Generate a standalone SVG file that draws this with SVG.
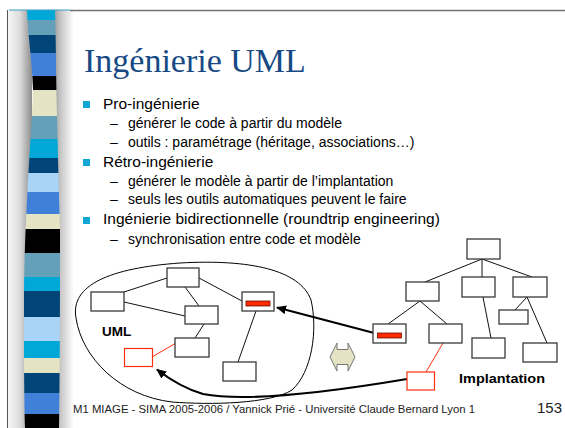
<svg xmlns="http://www.w3.org/2000/svg" width="565" height="428" viewBox="0 0 565 428">
<defs>
<style>
.t{font-family:"Liberation Sans",Arial,sans-serif;fill:#000}
.l1{font-size:15.5px}
.l2{font-size:14px}
.bx{fill:#fff;stroke:#3a3a3a;stroke-width:1.3}
.rbx{fill:#fff;stroke:#ff3010;stroke-width:1.2}
.bar{fill:#ff2a00;stroke:#6a1000;stroke-width:0.8}
.ln{stroke:#111;stroke-width:1;fill:none}
.rln{stroke:#ff3010;stroke-width:1;fill:none}
.ar{stroke:#000;stroke-width:2.2;fill:none}
.bul{fill:#12a6d6}
</style>
<linearGradient id="gl" x1="0" y1="0" x2="1" y2="0">
<stop offset="0" stop-color="#f6f6f6"/>
<stop offset="0.5" stop-color="#dcdcdc"/>
<stop offset="1" stop-color="#8c8c8c"/>
</linearGradient>
<linearGradient id="gr" x1="0" y1="0" x2="1" y2="0">
<stop offset="0" stop-color="#808080"/>
<stop offset="0.45" stop-color="#c8c8c8"/>
<stop offset="1" stop-color="#ffffff"/>
</linearGradient>
<clipPath id="sc">
<path d="M27,10 L55,10 C56,40 56,80 57,116 C58,160 59,200 60,229 C60,300 60,360 59,428 L25,428 C24,390 24,330 24,300 C24,260 26,220 27.5,192 C29,160 32,120 33,90 C32,60 28,35 27,10 Z"/>
</clipPath>
<marker id="ah" markerWidth="10" markerHeight="10" refX="9" refY="5" orient="auto" markerUnits="userSpaceOnUse">
<path d="M0,0.5 L10,5 L0,9.5 Z" fill="#000"/>
</marker>
</defs>
<rect width="565" height="428" fill="#fff"/>
<g id="frame">
<rect x="8" y="10" width="24" height="418" fill="url(#gl)"/>
<rect x="50" y="10" width="24" height="418" fill="url(#gr)"/>
<g clip-path="url(#sc)">
<rect x="20" y="10" width="45" height="10" fill="#00a8d8"/>
<rect x="20" y="20" width="45" height="15" fill="#64a0b8"/>
<rect x="20" y="35" width="45" height="18" fill="#004478"/>
<rect x="20" y="53" width="45" height="23" fill="#4080d8"/>
<rect x="20" y="76" width="45" height="14" fill="#000"/>
<rect x="20" y="90" width="45" height="26" fill="#e4e4c4"/>
<rect x="20" y="116" width="45" height="23" fill="#64a0b8"/>
<rect x="20" y="139" width="45" height="19" fill="#00a8d8"/>
<rect x="20" y="158" width="45" height="15" fill="#004478"/>
<rect x="20" y="173" width="45" height="19" fill="#a8d4f8"/>
<rect x="20" y="192" width="45" height="22" fill="#4080d8"/>
<rect x="20" y="214" width="45" height="15" fill="#e4e4c4"/>
<rect x="20" y="229" width="45" height="24" fill="#000"/>
<rect x="20" y="253" width="45" height="24" fill="#64a0b8"/>
<rect x="20" y="277" width="45" height="14" fill="#00a8d8"/>
<rect x="20" y="291" width="45" height="26" fill="#004478"/>
<rect x="20" y="317" width="45" height="24" fill="#a8d4f8"/>
<rect x="20" y="341" width="45" height="17" fill="#00a8d8"/>
<rect x="20" y="358" width="45" height="15" fill="#e4e4c4"/>
<rect x="20" y="373" width="45" height="20" fill="#004478"/>
<rect x="20" y="393" width="45" height="21" fill="#4080d8"/>
<rect x="20" y="414" width="45" height="14" fill="#000"/>
</g>
<line x1="9" y1="10" x2="70" y2="10" stroke="#3a9cc4" stroke-width="1.2"/>
<line x1="70" y1="10.5" x2="565" y2="10.5" stroke="#707070" stroke-width="1.5"/>
<line x1="7.5" y1="10" x2="7.5" y2="428" stroke="#555" stroke-width="1"/>
</g>
<g id="title">
<text x="84" y="72" font-family="'Liberation Serif','Times New Roman',serif" font-size="34" fill="#174a84">Ingénierie UML</text>
</g>
<g id="bullets">
<rect class="bul" x="83" y="101" width="7" height="7"/>
<rect class="bul" x="83" y="159" width="7" height="7"/>
<rect class="bul" x="83" y="217" width="7" height="7"/>
<text class="t l1" x="103" y="109">Pro-ingénierie</text>
<text class="t l2" x="110" y="128">–</text>
<text class="t l2" x="128" y="128">générer le code à partir du modèle</text>
<text class="t l2" x="110" y="147">–</text>
<text class="t l2" x="128" y="147">outils : paramétrage (héritage, associations…)</text>
<text class="t l1" x="103" y="167">Rétro-ingénierie</text>
<text class="t l2" x="110" y="186">–</text>
<text class="t l2" x="128" y="186">générer le modèle à partir de l’implantation</text>
<text class="t l2" x="110" y="204">–</text>
<text class="t l2" x="128" y="204">seuls les outils automatiques peuvent le faire</text>
<text class="t l1" x="103" y="224">Ingénierie bidirectionnelle (roundtrip engineering)</text>
<text class="t l2" x="110" y="244">–</text>
<text class="t l2" x="128" y="244">synchronisation entre code et modèle</text>
</g>
<g id="uml-region">
<path d="M76,318 C70,285 110,268 180,263 C250,259 300,270 311,300 C318,330 312,372 292,390 C270,404 210,405 172,402 C120,396 82,358 76,318 Z" fill="none" stroke="#000" stroke-width="1"/>
<text x="102" y="336" font-family="'Liberation Sans',Arial,sans-serif" font-size="13.5" font-weight="bold" fill="#000">UML</text>
</g>
<g id="connectors">
<line class="ln" x1="167" y1="278" x2="124" y2="292"/>
<line class="ln" x1="124" y1="302" x2="185" y2="316"/>
<line class="ln" x1="185" y1="287" x2="199" y2="306"/>
<line class="ln" x1="199" y1="278" x2="242" y2="301"/>
<line class="ln" x1="204" y1="324" x2="195" y2="338"/>
<line class="ln" x1="256" y1="311" x2="238" y2="362"/>
<line class="rln" x1="152" y1="357" x2="176" y2="343"/>
<line class="ln" x1="482" y1="259" x2="425" y2="282"/>
<line class="ln" x1="482" y1="259" x2="482" y2="277"/>
<line class="ln" x1="482" y1="259" x2="532" y2="277"/>
<line class="ln" x1="420" y1="301" x2="388" y2="324"/>
<line class="ln" x1="420" y1="301" x2="447" y2="324"/>
<line class="ln" x1="483" y1="297" x2="491" y2="338"/>
<line class="ln" x1="527" y1="297" x2="515" y2="310"/>
<line class="ln" x1="527" y1="297" x2="547" y2="343"/>
<line class="rln" x1="443" y1="343" x2="426" y2="372"/>
<line class="ar" x1="378" y1="334" x2="277" y2="307.5" marker-end="url(#ah)"/>
<path class="ar" d="M407,379 C330,392 245,402 203,394 C182,388 168,378 157,369.5" marker-end="url(#ah)"/>
</g>
<g id="uml-top"><rect class="bx" x="167" y="268" width="32" height="19"/></g>
<g id="uml-left"><rect class="bx" x="91" y="292" width="33" height="19"/></g>
<g id="uml-mid"><rect class="bx" x="185" y="306" width="33" height="18"/></g>
<g id="uml-low"><rect class="bx" x="175" y="338" width="34" height="19"/></g>
<g id="uml-bottom"><rect class="bx" x="223" y="362" width="33" height="19"/></g>
<g id="uml-red"><rect class="bx" x="242" y="292" width="32" height="19"/><rect class="bar" x="246" y="301" width="24" height="5"/></g>
<g id="uml-new"><rect class="rbx" x="124.5" y="348.5" width="28" height="18"/></g>
<g id="sync-arrow">
<path d="M330,357 L337,343 L337,349.5 L348,349.5 L348,343 L355,357 L348,371 L348,364.5 L337,364.5 L337,371 Z" fill="#e4e4c4" stroke="#777" stroke-width="1"/>
</g>
<g id="impl-top"><rect class="bx" x="467" y="239" width="33" height="20"/></g>
<g id="impl-a"><rect class="bx" x="406" y="282" width="33" height="19"/></g>
<g id="impl-b"><rect class="bx" x="462" y="277" width="33" height="20"/></g>
<g id="impl-c"><rect class="bx" x="513" y="277" width="34" height="20"/></g>
<g id="impl-red"><rect class="bx" x="373" y="324" width="33" height="19"/><rect class="bar" x="377.5" y="333" width="24" height="5"/></g>
<g id="impl-a2"><rect class="bx" x="429" y="324" width="33" height="19"/></g>
<g id="impl-b1"><rect class="bx" x="472" y="338" width="33" height="20"/></g>
<g id="impl-c1"><rect class="bx" x="499" y="310" width="29" height="14"/></g>
<g id="impl-c2"><rect class="bx" x="523" y="343" width="34" height="19"/></g>
<g id="impl-new"><rect class="rbx" x="407" y="372" width="27.5" height="18"/></g>
<g id="impl-label">
<text x="459" y="383" font-family="'Liberation Sans',Arial,sans-serif" font-size="13.5" font-weight="bold" fill="#000" textLength="86" lengthAdjust="spacingAndGlyphs">Implantation</text>
</g>
<g id="footer">
<text x="73" y="413" font-family="'Liberation Sans',Arial,sans-serif" font-size="10.5" fill="#222" textLength="402" lengthAdjust="spacingAndGlyphs">M1 MIAGE - SIMA  2005-2006 / Yannick Prié - Université Claude Bernard Lyon 1</text>
<text x="537" y="413" font-family="'Liberation Sans',Arial,sans-serif" font-size="15" fill="#222">153</text>
</g>
</svg>
